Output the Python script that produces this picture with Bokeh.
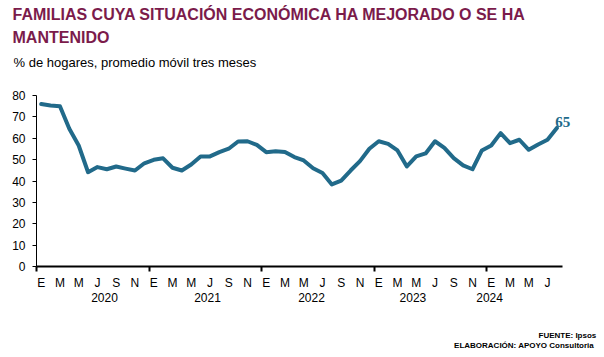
from bokeh.plotting import figure
from bokeh.models import Range1d, FixedTicker, Label, LinearAxis
from bokeh.layouts import column
from bokeh.embed import file_html
from bokeh.resources import INLINE

# ---- data (monthly, Jan 2020 - Aug 2024) ----
years = ["2020", "2021", "2022", "2023", "2024"]
month_letters = ["E", "F", "M", "A", "M", "J", "J", "A", "S", "O", "N", "D"]
values_2020 = [76.0, 75.3, 75.0, 64.4, 56.6, 44.1, 46.5, 45.5, 46.8, 45.8, 44.9, 48.3]
values_2021 = [49.9, 50.6, 46.2, 44.9, 47.7, 51.5, 51.5, 53.5, 55.1, 58.5, 58.6, 56.9]
values_2022 = [53.5, 53.9, 53.6, 51.2, 49.6, 46.0, 43.7, 38.4, 40.2, 44.9, 49.3, 55.1]
values_2023 = [58.6, 57.4, 54.3, 46.8, 51.5, 52.9, 58.6, 55.5, 50.7, 47.3, 45.5, 54.3]
values_2024 = [56.6, 62.4, 57.7, 59.3, 54.6, 57.1, 59.3, 64.8]
y_ticks = [0, 10, 20, 30, 40, 50, 60, 70, 80]

values = values_2020 + values_2021 + values_2022 + values_2023 + values_2024
n = len(values)
x = list(range(n))

LINE = "#216A8A"
TITLE = "#7B1B4B"
FONT = "Liberation Sans"
W = 604
H = 357


def blank(height):
    f = figure(width=W, height=height, title=None, output_backend="svg", toolbar_location=None,
               x_range=Range1d(0, W), y_range=Range1d(0, height),
               min_border=0, min_border_left=0, min_border_right=0,
               min_border_top=0, min_border_bottom=0,
               x_axis_type=None, y_axis_type=None, frame_align=False)
    f.outline_line_color = None
    f.xgrid.visible = False
    f.ygrid.visible = False
    return f


# ---------------- title block ----------------
TH = 85
t = blank(TH)
t.add_layout(Label(x=12, y=TH - 14, x_units="screen", y_units="screen",
                   text="FAMILIAS CUYA SITUACIÓN ECONÓMICA HA MEJORADO O SE HA",
                   text_font=FONT, text_font_style="bold", text_font_size="16px",
                   text_color=TITLE, text_baseline="alphabetic"))
t.add_layout(Label(x=12, y=TH - 37, x_units="screen", y_units="screen",
                   text="MANTENIDO",
                   text_font=FONT, text_font_style="bold", text_font_size="16px",
                   text_color=TITLE, text_baseline="alphabetic"))
t.add_layout(Label(x=13, y=TH - 61.5, x_units="screen", y_units="screen",
                   text="% de hogares, promedio móvil tres meses",
                   text_font=FONT, text_font_size="13px",
                   text_color="black", text_baseline="alphabetic"))

# ---------------- main chart ----------------
MH = 226
px_per_month = 526 / 56.1
frame_w = W - 36 - 4
p = figure(width=W, height=MH, title=None, output_backend="svg", toolbar_location=None,
           x_range=Range1d(-0.5, -0.5 + frame_w / px_per_month), y_range=Range1d(0, 80),
           min_border_left=36, min_border_right=4, min_border_top=10, min_border_bottom=45,
           x_axis_type=None, y_axis_type=None, frame_align=False)
p.outline_line_color = None
p.xgrid.visible = False
p.ygrid.visible = False

yax = LinearAxis(ticker=FixedTicker(ticks=y_ticks))
yax.axis_line_color = "black"
yax.axis_line_width = 1
yax.major_tick_in = 0
yax.major_tick_out = 4
yax.minor_tick_out = 0
yax.minor_tick_in = 0
yax.major_tick_line_color = "black"
yax.major_label_standoff = 7
yax.major_label_text_font = FONT
yax.major_label_text_font_size = "12px"
yax.major_label_text_color = "black"
p.add_layout(yax, "left")

boundaries = [12 * k - 0.5 for k in range(len(years))]
xax = LinearAxis(ticker=FixedTicker(ticks=x, minor_ticks=boundaries), bounds=(-0.5, 55.6))
xax.major_label_overrides = {i: (month_letters[i % 12] if i % 2 == 0 else "") for i in x}
xax.axis_line_color = "black"
xax.axis_line_width = 2
xax.major_tick_in = 0
xax.major_tick_out = 0
xax.minor_tick_in = 0
xax.minor_tick_out = 5
xax.minor_tick_line_color = "black"
xax.minor_tick_line_width = 2
xax.major_label_standoff = 4
xax.major_label_text_font = FONT
xax.major_label_text_font_size = "12px"
xax.major_label_text_color = "black"
p.add_layout(xax, "below")

year_anchor = [6.75, 17.74, 28.83, 39.65, 47.82]
yrax = LinearAxis(ticker=FixedTicker(ticks=year_anchor), bounds=(-0.5, 55.6))
yrax.major_label_overrides = {a: yr for a, yr in zip(year_anchor, years)}
yrax.axis_line_color = None
yrax.major_tick_line_color = None
yrax.minor_tick_line_color = None
yrax.major_tick_in = 0
yrax.major_tick_out = 0
yrax.minor_tick_in = 0
yrax.minor_tick_out = 0
yrax.major_label_standoff = 0
yrax.major_label_text_font = FONT
yrax.major_label_text_font_size = "12px"
yrax.major_label_text_color = "black"
p.add_layout(yrax, "below")

p.line(x, values, line_color=LINE, line_width=4, line_join="round", line_cap="round")

p.add_layout(Label(x=x[-1], y=values[-1], text=str(round(values[-1])), x_offset=6, y_offset=6,
                   text_align="center", text_baseline="alphabetic",
                   text_font="Liberation Serif", text_font_style="bold",
                   text_font_size="15px", text_color=LINE))

# ---------------- footer ----------------
FH = H - TH - MH
f = blank(FH)
f.add_layout(Label(x=598, y=H - 334.5, x_units="screen", y_units="screen",
                   text="FUENTE:  Ipsos", text_align="right",
                   text_font=FONT, text_font_style="bold", text_font_size="8px",
                   text_color="black", text_baseline="alphabetic"))
f.add_layout(Label(x=598, y=H - 345, x_units="screen", y_units="screen",
                   text="ELABORACIÓN:  APOYO  Consultoria", text_align="right",
                   text_font=FONT, text_font_style="bold", text_font_size="8px",
                   text_color="black", text_baseline="alphabetic"))

layout = column(t, p, f, spacing=0)
open("out.html", "w").write(file_html(layout, INLINE))
